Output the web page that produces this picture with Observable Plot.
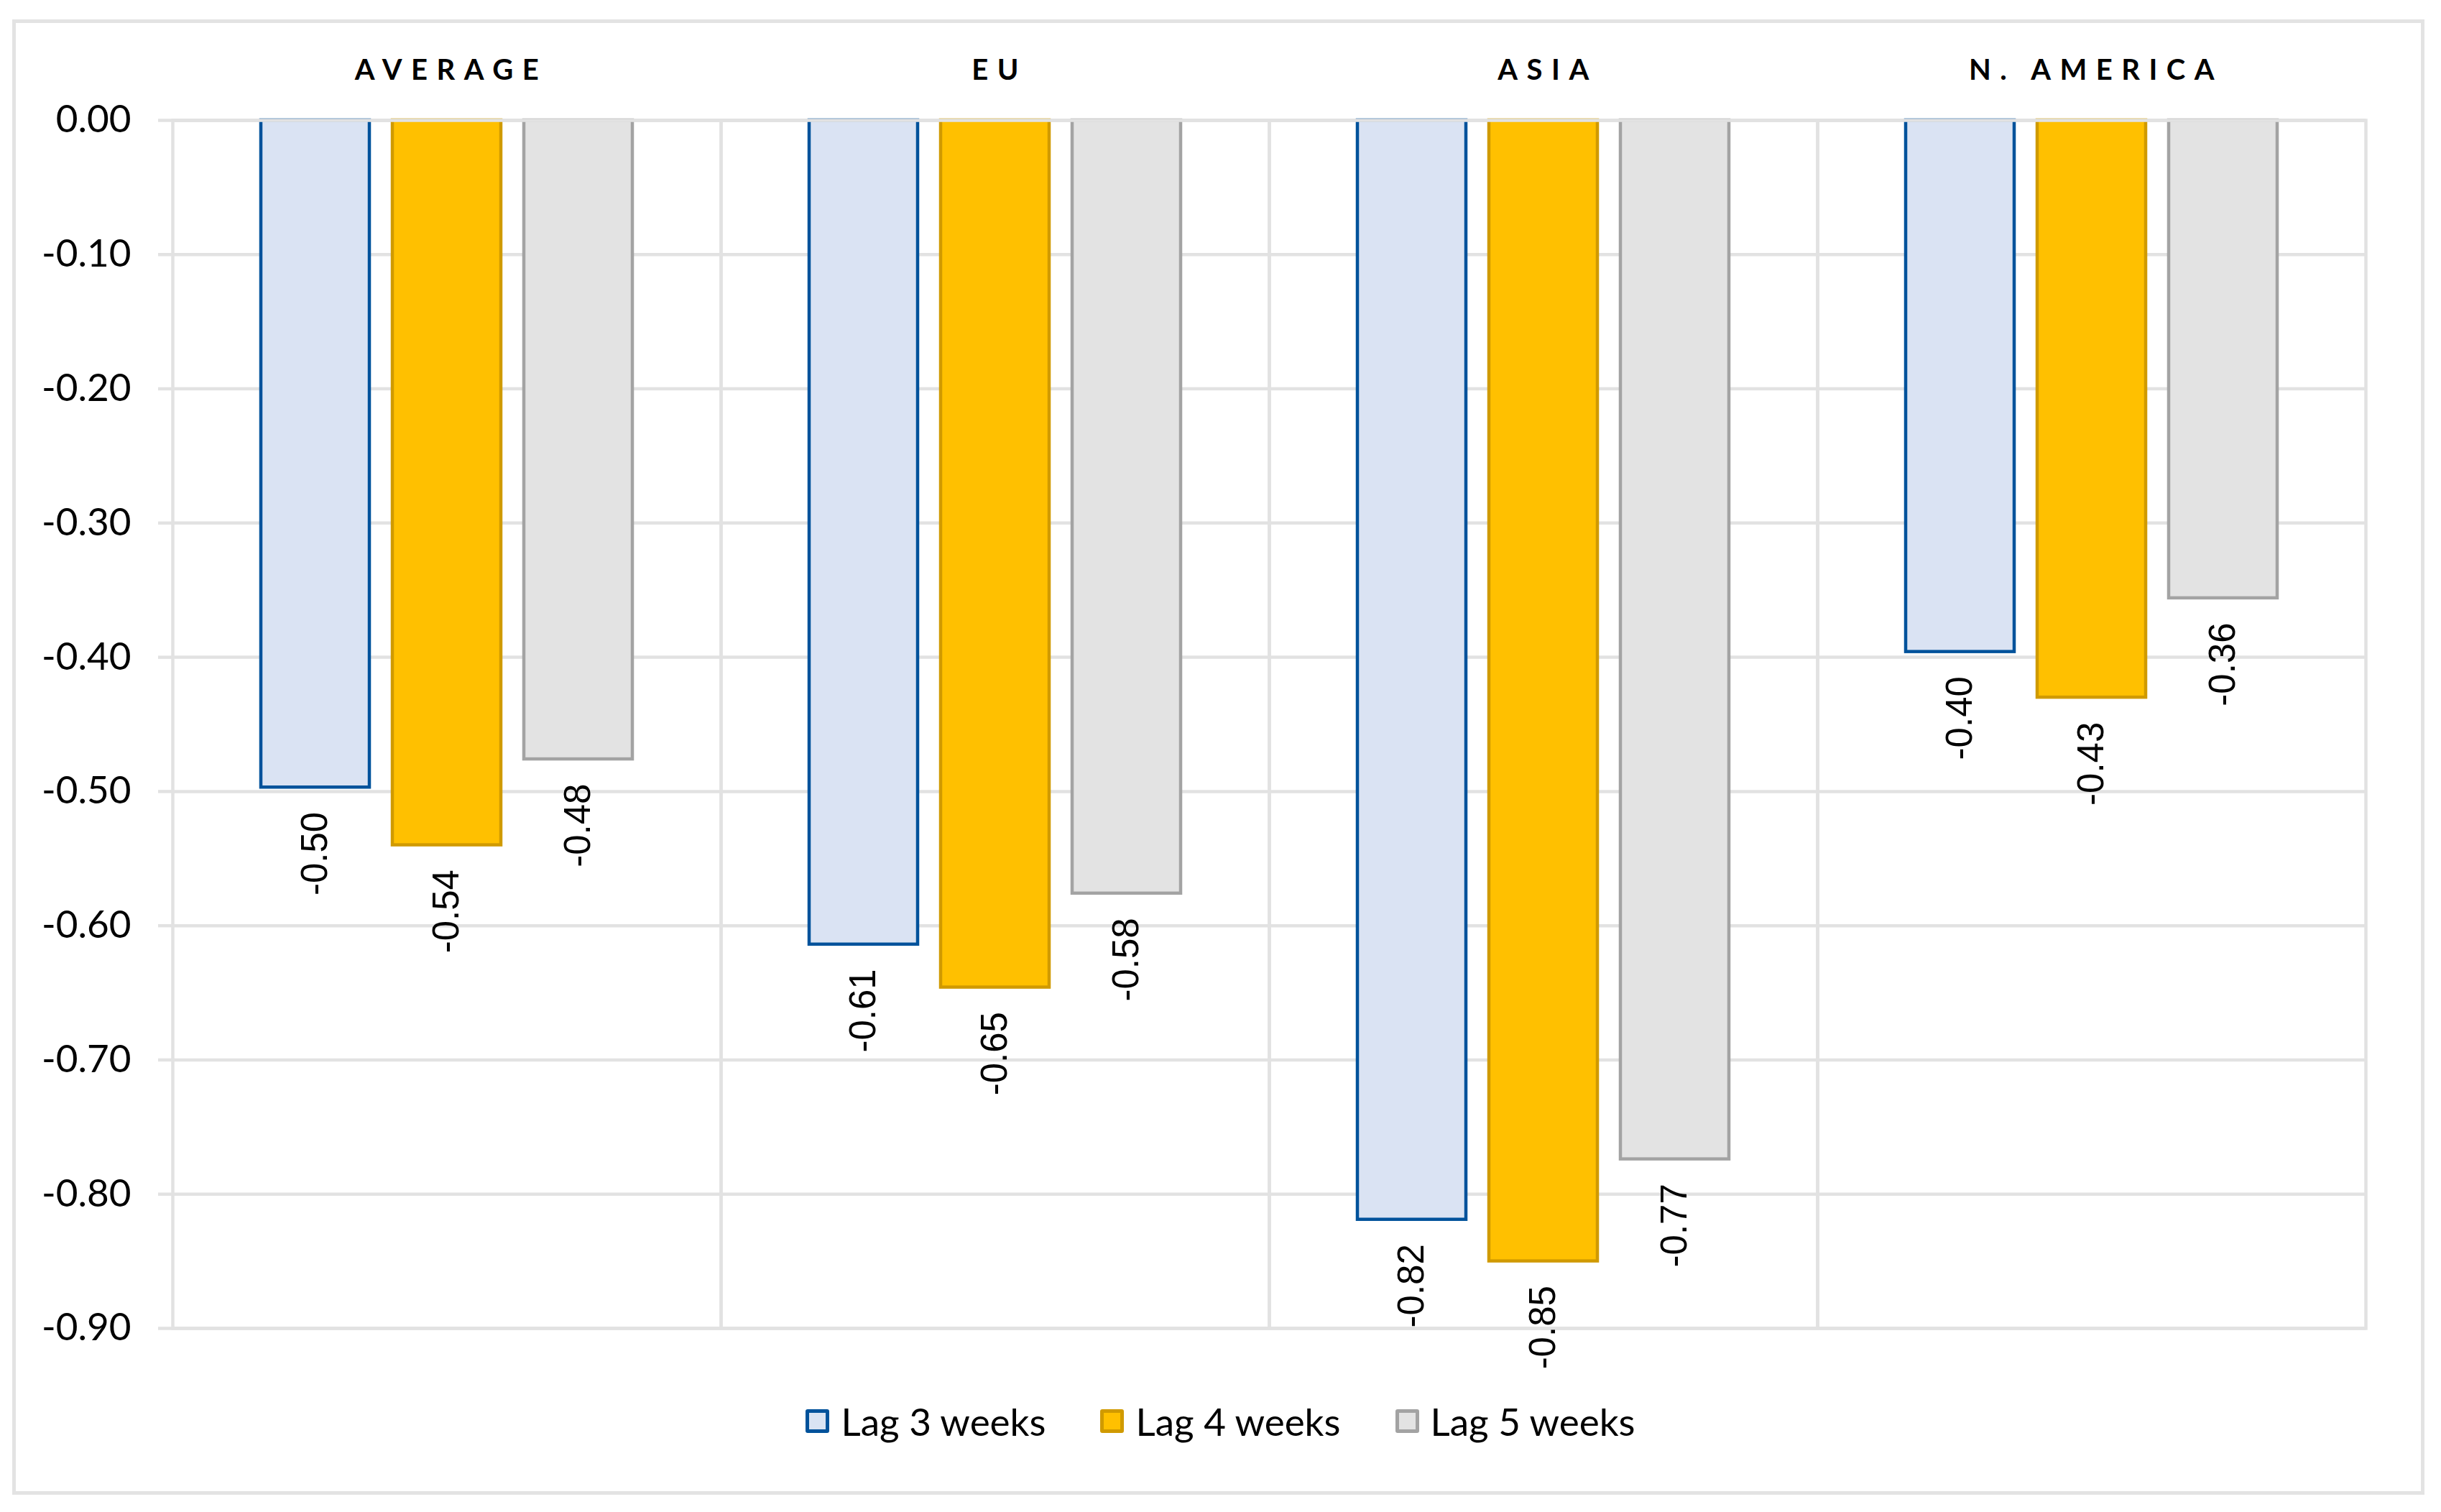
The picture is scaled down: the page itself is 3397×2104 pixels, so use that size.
<!DOCTYPE html>
<html><head><meta charset="utf-8">
<script src="https://cdn.jsdelivr.net/npm/d3@7"></script>
<script src="https://cdn.jsdelivr.net/npm/@observablehq/plot@0.6"></script>
<style>
body{margin:0;background:#fff;}
#wrap{position:relative;width:3397px;height:2104px;overflow:hidden;background:#fff}
#border{position:absolute;left:17px;top:27px;width:3357px;height:2053px;border:5px solid #e3e3e3;box-sizing:border-box;pointer-events:none;z-index:2}
#chart{position:absolute;left:0;top:0}
#legend{position:absolute;left:0;top:1947px;width:3397px;height:60px;display:flex;justify-content:center;align-items:center;font-family:Lato,sans-serif;font-size:53px;color:#000;z-index:1}
.item{display:flex;align-items:center;margin:0 38px}
.sw{width:33px;height:33px;box-sizing:border-box;border:5px solid;border-radius:3px;margin-right:16px}
g[aria-label="fx-axis tick label"] text{letter-spacing:12.5px}
</style></head>
<body>
<div id="wrap"><div id="chart"></div><div id="legend"></div><div id="border"></div></div>
<script>
const regions = ["AVERAGE", "EU", "ASIA", "N. AMERICA"];
const series = ["Lag 3 weeks", "Lag 4 weeks", "Lag 5 weeks"];
const lag3 = [-0.497, -0.614, -0.819, -0.396];
const lag4 = [-0.540, -0.646, -0.850, -0.430];
const lag5 = [-0.476, -0.576, -0.774, -0.356];
const yTicks = [0, -0.1, -0.2, -0.3, -0.4, -0.5, -0.6, -0.7, -0.8, -0.9];
const yTickLabels = ["0.00", "-0.10", "-0.20", "-0.30", "-0.40", "-0.50", "-0.60", "-0.70", "-0.80", "-0.90"];
const fills = ["#dae3f3", "#ffc000", "#e3e3e3"];
const strokes = ["#00529b", "#d09a00", "#a3a3a3"];

const values = [lag3, lag4, lag5];
const data = series.flatMap((s, i) => regions.map((r, j) => ({region: r, series: s, value: values[i][j]})));

const grid = "#e2e2e2", gw = 4.5;
const plot = Plot.plot({
  width: 3397, height: 1940,
  marginTop: 167, marginBottom: 92, marginLeft: 238, marginRight: 104,
  style: {fontFamily: "Lato, sans-serif", background: "transparent", color: "#000"},
  fx: {domain: regions, padding: 0, label: null},
  x: {domain: series, paddingInner: 0.174, paddingOuter: 0.663, axis: null},
  y: {domain: [-0.9, 0], label: null},
  marks: [
    Plot.gridY({ticks: yTicks, stroke: grid, strokeOpacity: 1, strokeWidth: gw}),
    Plot.frame({stroke: grid, strokeWidth: gw}),
    Plot.axisY({ticks: yTicks, tickFormat: d => yTickLabels[yTicks.findIndex(t => Math.abs(t - d) < 1e-9)], tickSize: 20, tickPadding: 38, fontSize: 53, stroke: grid, strokeWidth: gw, strokeOpacity: 1, fill: "#000", label: null}),
    Plot.axisFx({anchor: "top", tickSize: 0, tickPadding: 57, fontSize: 40, fontWeight: "bold", label: null, fill: "#000", dx: 6}),
    ...series.map((s, i) => Plot.barY(data.filter(d => d.series === s), {fx: "region", x: "series", y: "value", fill: fills[i], stroke: strokes[i], strokeWidth: gw})),
    Plot.ruleY([0], {stroke: grid, strokeWidth: gw}),
    Plot.text(data, {fx: "region", x: "series", y: "value", text: d => d.value.toFixed(2), rotate: -90, textAnchor: "end", dy: 34, fontSize: 51, fontFamily: "Liberation Sans, Arial, sans-serif", fill: "#000"})
  ]
});
document.getElementById("chart").appendChild(plot);

const legend = document.getElementById("legend");
series.forEach((s, i) => {
  const item = document.createElement("div");
  item.className = "item";
  const sw = document.createElement("span");
  sw.className = "sw";
  sw.style.background = fills[i];
  sw.style.borderColor = strokes[i];
  const t = document.createElement("span");
  t.textContent = s;
  item.appendChild(sw); item.appendChild(t);
  legend.appendChild(item);
});
</script>
</body></html>
